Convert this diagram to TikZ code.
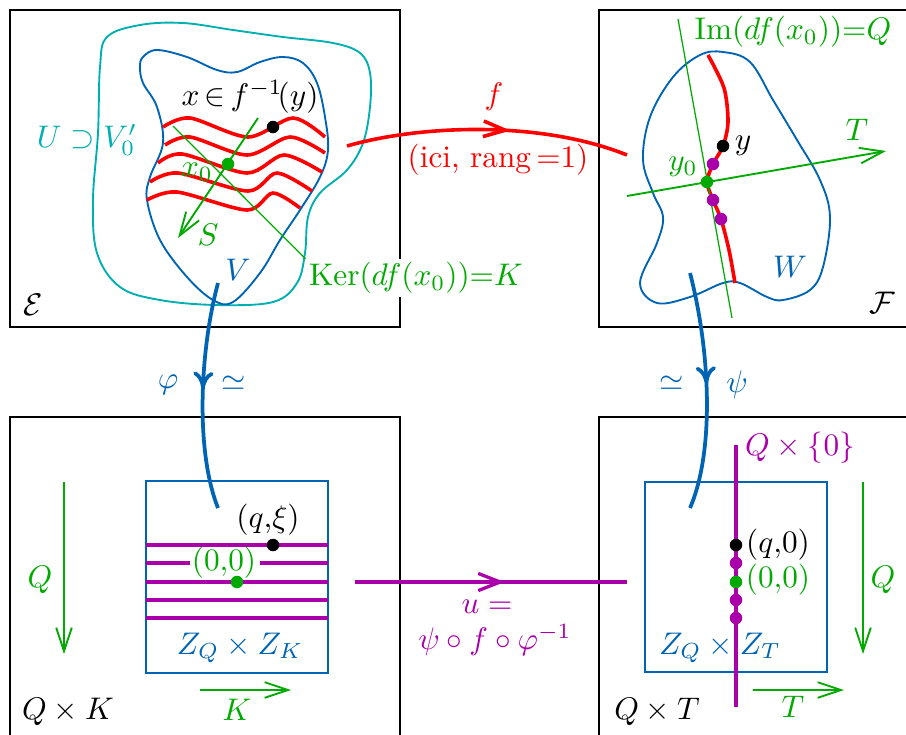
\documentclass[tikz,border=0pt]{standalone}
\usetikzlibrary{arrows.meta,decorations.markings}
\definecolor{cblue}{RGB}{0,100,180}
\definecolor{ccyan}{RGB}{0,175,175}
\definecolor{cgreen}{RGB}{0,170,0}
\definecolor{cmag}{RGB}{170,0,170}
\definecolor{cred}{RGB}{255,0,0}
\begin{document}
\begin{tikzpicture}[x=0.32pt,y=-0.32pt,
  frame/.style={draw=black,line width=0.7pt},
  blob/.style={line width=0.6pt},
  wave/.style={draw=cred,line width=1.15pt},
  thin green/.style={draw=cgreen,line width=0.4pt},
  garrow/.style={draw=cgreen,line width=0.6pt,-{Straight Barb[length=7.5pt,width=5pt]}},
  dot/.style={circle,fill=#1,inner sep=0pt,minimum size=4pt},
  lab/.style={inner sep=1pt},
  maglin/.style={draw=cmag,line width=1.05pt},
  midarrow/.style 2 args={postaction={decorate},decoration={markings,
     mark=at position #1 with {\arrow{#2}}}},
  bigblue/.style={draw=cblue,line width=1.2pt,
     midarrow={0.47}{Computer Modern Rightarrow[length=5.5pt,width=6.5pt,line width=1.2pt]}},
]
\useasboundingbox (0,0) rectangle (906,734);
\clip (0,0) rectangle (906,734);

% frames
\draw[frame] (10,10) rectangle (400,327);
\draw[frame] (599,10) rectangle (930,327);
\draw[frame] (10,417) rectangle (400,760);
\draw[frame] (599,417) rectangle (930,760);

% ---------- top left ----------
\draw[blob,draw=ccyan] plot[smooth cycle,tension=0.6] coordinates {
 (107,37) (140,25) (183,23) (233,30) (283,37) (333,43) (360,53) (370,73)
 (370,107) (363,143) (347,170) (320,193) (308,217) (305,253) (297,283)
 (273,302) (217,305) (160,300) (120,287) (97,253) (93,200) (98,133) (100,67)};
\draw[blob,draw=cblue] plot[smooth cycle,tension=0.6] coordinates {
 (140,67) (143,57) (157,50) (187,57) (217,70) (237,72) (260,62) (283,57)
 (303,63) (317,83) (325,117) (328,150) (320,177) (300,210) (280,240)
 (260,273) (233,302) (213,300) (187,277) (160,240) (147,200) (150,177)
 (163,143) (157,107) (143,83)};

\draw[wave] plot[smooth] coordinates {(163,127) (190,118) (248,137) (293,118) (325,137)};
\draw[wave] plot[smooth] coordinates {(165,145) (190,137) (247,155) (290,137) (325,153)};
\draw[wave] plot[smooth] coordinates {(158,163) (182,154) (247,173) (284,155) (322,172)};
\draw[wave] plot[smooth] coordinates {(150,182) (178,173) (248,191) (277,173) (312,191)};
\draw[wave] plot[smooth] coordinates {(147,200) (177,192) (247,210) (273,193) (300,208)};

\node[lab,text=cgreen,fill=white] (lKer) at (416,278) {$\mathrm{Ker}(df(x_0)){=}K$};
\coordinate (kerA) at (173,126);
\draw[thin green] (kerA) -- (lKer.north west);
\coordinate (sA) at (258,118);
\coordinate (sB) at (178,238);
\draw[garrow] (sA) -- (sB);

\node[dot=black] (px) at (273,127) {};
\node[dot=cgreen] (px0) at (228,164) {};

\node[lab,text=black] (lx) at (250,97) {$x\,{\in}\,f^{-1}\!(y)$};
\node[lab,text=ccyan] (lU) at (87,140) {$U\supset V'_0$};
\node[lab,text=cgreen] (lx0) at (197,172) {$x_0$};
\node[lab,text=cgreen] (lS) at (208,235) {$S$};
\node[lab,text=cblue] (lV) at (238,270) {$V$};
\node[lab,text=black] (lE) at (33,305) {$\mathcal{E}$};

% ---------- top right ----------
\draw[blob,draw=cblue] plot[smooth cycle,tension=0.6] coordinates {
 (723,52) (750,62) (773,100) (797,140) (820,180) (830,217) (823,267)
 (810,290) (783,300) (767,297) (740,283) (723,283) (690,297) (657,303)
 (640,283) (657,243) (663,217) (653,193) (643,160) (650,117) (673,77) (700,55)};
\draw[wave] plot[smooth] coordinates {(708,55) (724,88) (728,122) (723,146)
 (713,164) (707,182) (713,200) (721,219) (729,250) (735,283)};
\coordinate (imA) at (678,19);
\coordinate (imB) at (732,318);
\draw[thin green] (imA) -- (imB);
\coordinate (tA) at (627,196);
\coordinate (tB) at (886,151);
\draw[garrow] (tA) -- (tB);

\node[dot=black] (py) at (723,146) {};
\node[dot=cmag] (pm1) at (713,164) {};
\node[dot=cgreen] (py0) at (707,182) {};
\node[dot=cmag] (pm2) at (713,200) {};
\node[dot=cmag] (pm3) at (721,219) {};

\node[lab,text=cgreen] (lIm) at (793,32) {$\mathrm{Im}(df(x_0)){=}Q$};
\node[lab,text=black] (ly) at (743,146) {$y$};
\node[lab,text=cgreen] (ly0) at (683,167) {$y_0$};
\node[lab,text=cgreen] (lT) at (857,130) {$T$};
\node[lab,text=cblue] (lW) at (790,267) {$W$};
\node[lab,text=black] (lF) at (882,303) {$\mathcal{F}$};

% ---------- f arrow ----------
\coordinate (fs) at (347,146);
\coordinate (fe) at (627,155);
\draw[cred,line width=1.15pt,midarrow={0.58}{Straight Barb[length=7pt,width=5pt]}]
  (fs) .. controls (420,125) and (540,120) .. (fe);
\node[lab,text=cred] (lf) at (494,97) {$f$};
\node[lab,text=cred] (lici) at (498,160) {(ici, rang\,${=}$1)};

% ---------- vertical maps ----------
\coordinate (phiA) at (218,283);
\coordinate (phiB) at (218,508);
\draw[bigblue] (phiA) .. controls (200,350) and (195,450) .. (phiB);
\coordinate (psiA) at (690,273);
\coordinate (psiB) at (690,508);
\draw[bigblue] (psiA) .. controls (710,350) and (715,450) .. (psiB);
\node[lab,text=cblue] (lphi) at (168,385) {$\varphi$};
\node[lab,text=cblue] (lsim1) at (234,383) {$\simeq$};
\node[lab,text=cblue] (lsim2) at (672,383) {$\simeq$};
\node[lab,text=cblue] (lpsi) at (737,385) {$\psi$};

% ---------- bottom left ----------
\draw[blob,draw=cblue] (146,481) rectangle (328,673);
\node[lab,text=cgreen,inner sep=0pt] (l00a) at (224,563) {$(0{,}0)$};
\foreach \yy in {545,582,600,618}
  \draw[maglin] (146,\yy) -- (328,\yy);
\draw[maglin] (146,563) -- (190,563);
\draw[maglin] (260,563) -- (328,563);
\node[dot=black] (pqxi) at (273,545) {};
\node[dot=cgreen] (p00a) at (237,582) {};
\node[lab,text=black] (lqxi) at (268,520) {$(q{,}\xi)$};
\node[lab,text=cblue] (lZK) at (240,648) {$Z_Q\times Z_K$};
\coordinate (qaA) at (64,482);
\coordinate (qaB) at (64,654);
\draw[garrow] (qaA) -- (qaB);
\coordinate (kaA) at (200,690);
\coordinate (kaB) at (291,690);
\draw[garrow] (kaA) -- (kaB);
\node[lab,text=cgreen] (lQa) at (40,580) {$Q$};
\node[lab,text=cgreen] (lKa) at (237,710) {$K$};
\node[lab,text=black] (lQK) at (68,712) {$Q\times K$};

% ---------- u arrow ----------
\coordinate (uA) at (355,582);
\coordinate (uB) at (627,582);
\draw[maglin,midarrow={0.55}{Straight Barb[length=7pt,width=5.5pt]}] (uA) -- (uB);
\node[lab,text=cmag] (lu1) at (487,607) {$u=$};
\node[lab,text=cmag] (lu2) at (495,640) {$\psi\circ f\circ\varphi^{-1}$};

% ---------- bottom right ----------
\draw[blob,draw=cblue] (645,482) rectangle (827,672);
\coordinate (q0A) at (736,445);
\coordinate (q0B) at (736,707);
\draw[maglin] (q0A) -- (q0B);
\node[dot=black] (pq0) at (736,545) {};
\node[dot=cmag] (pb1) at (736,563) {};
\node[dot=cgreen] (p00b) at (736,582) {};
\node[dot=cmag] (pb2) at (736,600) {};
\node[dot=cmag] (pb3) at (736,618) {};
\node[lab,text=cmag] (lQ0) at (800,448) {$Q\times\{0\}$};
\node[lab,text=black] (lq0) at (778,545) {$(q{,}0)$};
\node[lab,text=cgreen] (l00b) at (778,580) {$(0{,}0)$};
\node[lab,text=cblue] (lZT) at (720,648) {$Z_Q\times Z_T$};
\coordinate (qbA) at (863,482);
\coordinate (qbB) at (863,654);
\draw[garrow] (qbA) -- (qbB);
\coordinate (tbA) at (753,690);
\coordinate (tbB) at (844,690);
\draw[garrow] (tbA) -- (tbB);
\node[lab,text=cgreen] (lQb) at (883,580) {$Q$};
\node[lab,text=cgreen] (lTb) at (793,707) {$T$};
\node[lab,text=black] (lQT) at (657,712) {$Q\times T$};
\end{tikzpicture}
\end{document}
